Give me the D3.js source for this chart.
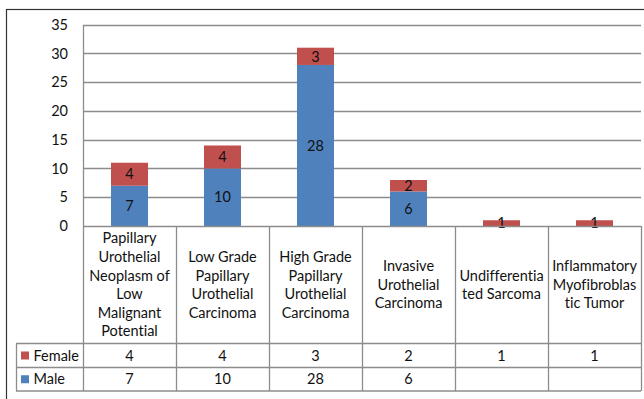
<!DOCTYPE html>
<html><head><meta charset="utf-8">
<script src="https://cdn.jsdelivr.net/npm/d3@7"></script>
<style>
html,body{margin:0;padding:0;background:#fff;}
svg{display:block;}
text{font-family:Lato,"Open Sans",sans-serif;fill:#111;font-variant-ligatures:none;font-feature-settings:"liga" 0;}
</style></head>
<body>
<svg id="chart" width="644" height="399"></svg>
<script>
const categories = [
  ["Papillary","Urothelial","Neoplasm of","Low","Malignant","Potential"],
  ["Low Grade","Papillary","Urothelial","Carcinoma"],
  ["High Grade","Papillary","Urothelial","Carcinoma"],
  ["Invasive","Urothelial","Carcinoma"],
  ["Undifferentia","ted Sarcoma"],
  ["Inflammatory","Myofibroblas","tic Tumor"]
];
const maleValues = [7, 10, 28, 6, null, null];
const femaleValues = [4, 4, 3, 2, 1, 1];
const yTicks = [0, 5, 10, 15, 20, 25, 30, 35];
const seriesNames = ["Female", "Male"];
const seriesColors = {Male: "#4F81BD", Female: "#C0504D"};

const svg = d3.select("#chart");
const L = 83, R = 641, T = 24.7, B = 226;
const gridColor = "#8c8c8c";
const fs = 14.5;

// outer border
svg.append("rect").attr("x", 6.5).attr("y", 9.5).attr("width", 700).attr("height", 500)
  .attr("fill", "none").attr("stroke", "#333").attr("stroke-width", 1.2);

const x = d3.scaleBand().domain(d3.range(categories.length)).range([L, R]).paddingInner(0).paddingOuter(0);
const y = d3.scaleLinear().domain([0, 35]).range([B, T]);

// gridlines
svg.append("g").selectAll("line").data(yTicks.filter(t => t > 0)).join("line")
  .attr("x1", L).attr("x2", R).attr("y1", d => Math.round(y(d)) + 0.5).attr("y2", d => Math.round(y(d)) + 0.5)
  .attr("stroke", gridColor).attr("stroke-width", 1.3);
// left plot edge
svg.append("line").attr("x1", L + 0.5).attr("x2", L + 0.5).attr("y1", Math.round(y(35))).attr("y2", B)
  .attr("stroke", gridColor).attr("stroke-width", 1.3);

// y tick labels
svg.append("g").selectAll("text").data(yTicks).join("text")
  .attr("x", 68).attr("y", d => y(d)).attr("dy", "0.35em").attr("text-anchor", "end")
  .attr("font-size", fs).text(d => d);

// stacked bars
const barW = 37;
const stackData = categories.map((c, i) => ({i, Male: maleValues[i] || 0, Female: femaleValues[i] || 0}));
const stack = d3.stack().keys(["Male", "Female"])(stackData);
const gBars = svg.append("g");
stack.forEach(layer => {
  const key = layer.key;
  gBars.selectAll(null).data(layer.filter(d => d[1] - d[0] > 0)).join("rect")
    .attr("x", d => x(d.data.i) + x.bandwidth() / 2 - barW / 2)
    .attr("width", barW)
    .attr("y", d => y(d[1]))
    .attr("height", d => y(d[0]) - y(d[1]))
    .attr("fill", seriesColors[key]);
  gBars.selectAll(null).data(layer.filter(d => d[1] - d[0] > 0)).join("text")
    .attr("x", d => x(d.data.i) + x.bandwidth() / 2)
    .attr("y", d => (y(d[0]) + y(d[1])) / 2)
    .attr("dy", "0.36em").attr("text-anchor", "middle").attr("font-size", fs)
    .text(d => d[1] - d[0]);
});

// data table
const rowTop = 226, headBottom = 343.5, femaleBottom = 367.5, maleBottom = 391;
const tl = svg.append("g").attr("stroke", gridColor).attr("stroke-width", 1.3);
tl.append("line").attr("x1", L).attr("x2", R).attr("y1", rowTop + 0.5).attr("y2", rowTop + 0.5);
[headBottom, femaleBottom, maleBottom].forEach(yy =>
  tl.append("line").attr("x1", 16).attr("x2", R).attr("y1", yy).attr("y2", yy));
tl.append("line").attr("x1", 16.5).attr("x2", 16.5).attr("y1", headBottom).attr("y2", maleBottom);
d3.range(categories.length + 1).forEach(i => {
  const xx = i < categories.length ? x(i) : R;
  tl.append("line").attr("x1", xx + 0.5).attr("x2", xx + 0.5)
    .attr("y1", rowTop).attr("y2", maleBottom);
});

// category labels
const lineH = 18.6;
categories.forEach((lines, i) => {
  const cy = (rowTop + headBottom) / 2;
  const y0 = cy - (lines.length - 1) * lineH / 2;
  const t = svg.append("text").attr("text-anchor", "middle").attr("font-size", fs);
  lines.forEach((ln, k) => {
    t.append("tspan").attr("x", x(i) + x.bandwidth() / 2).attr("y", y0 + k * lineH).attr("dy", "0.35em").text(ln);
  });
});

// row labels and values
const rows = [
  {name: "Female", vals: femaleValues, cy: (headBottom + femaleBottom) / 2},
  {name: "Male", vals: maleValues, cy: (femaleBottom + maleBottom) / 2}
];
rows.forEach(r => {
  svg.append("rect").attr("x", 21).attr("y", r.cy - 4).attr("width", 8).attr("height", 8)
    .attr("fill", seriesColors[r.name]);
  svg.append("text").attr("x", 33.5).attr("y", r.cy).attr("dy", "0.35em").attr("font-size", fs).text(r.name);
  r.vals.forEach((v, i) => {
    if (v == null) return;
    svg.append("text").attr("x", x(i) + x.bandwidth() / 2).attr("y", r.cy).attr("dy", "0.35em")
      .attr("text-anchor", "middle").attr("font-size", fs).text(v);
  });
});
</script>
</body></html>
